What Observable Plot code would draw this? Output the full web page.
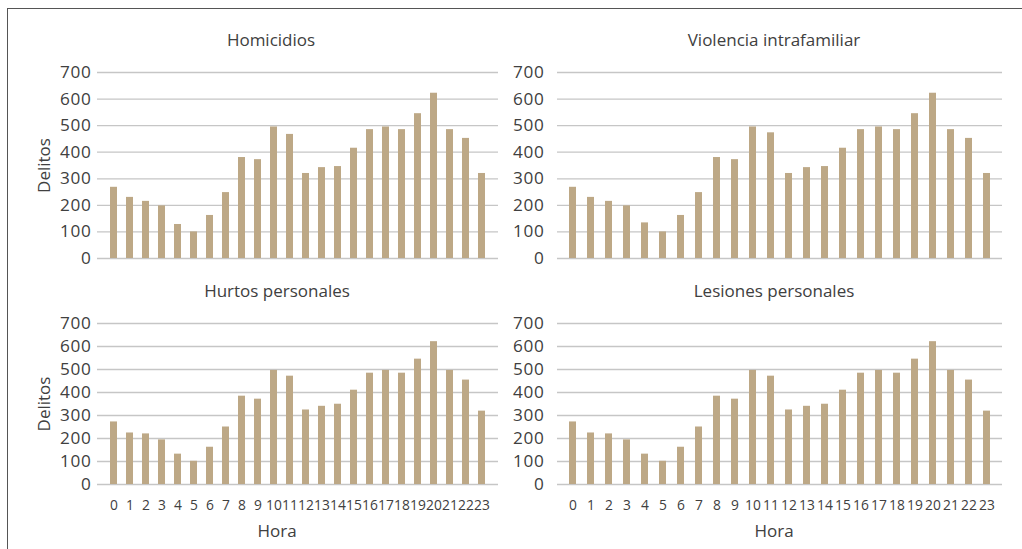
<!DOCTYPE html>
<html>
<head>
<meta charset="utf-8">
<script src="https://cdn.jsdelivr.net/npm/d3@7"></script>
<script src="https://cdn.jsdelivr.net/npm/@observablehq/plot@0.6"></script>
<style>
  body { margin: 0; background: #fff; }
  #wrap { position: relative; width: 1022px; height: 549px; overflow: hidden; background: #fff; }
  #frame { position: absolute; left: 7px; top: 8px; width: 1100px; height: 700px;
           border-left: 1.5px solid #555; border-top: 1.5px solid #555; }
  .panel { position: absolute; }
  .panel svg { display: block; overflow: visible; }
</style>
</head>
<body>
<div id="wrap"><div id="frame"></div></div>
<script>
const horas = d3.range(0, 24);
const yTicks = [0, 100, 200, 300, 400, 500, 600, 700];

const homicidios = [268, 230, 215, 198, 128, 100, 162, 248, 380, 372, 495, 467, 320, 342, 346, 415, 485, 495, 485, 545, 622, 485, 452, 320];
const violencia  = [268, 230, 215, 198, 134, 100, 162, 248, 380, 372, 495, 473, 320, 342, 346, 415, 485, 495, 485, 545, 622, 485, 452, 320];
const hurtos     = [272, 224, 220, 194, 132, 101, 162, 250, 384, 371, 496, 471, 324, 340, 349, 410, 484, 496, 484, 545, 621, 496, 454, 319];
const lesiones   = [272, 224, 220, 194, 132, 101, 162, 250, 384, 371, 496, 471, 324, 340, 349, 410, 484, 496, 484, 545, 621, 496, 454, 319];

const titles = ["Homicidios", "Violencia intrafamiliar", "Hurtos personales", "Lesiones personales"];
const yLabel = "Delitos";
const xLabel = "Hora";

const barColor = "#bda886";
const gridColor = "#c6c6c6";
const textColor = "#404040";
const FONT = "'Open Sans', 'Noto Sans', sans-serif";

function panel({values, title, left, top, width, height, mL, mR, mT, mB, tickPad, padding,
                showY, showX, titleDx, titleDy, labelDx, horaDx}) {
  const data = horas.map((h, i) => ({hora: h, delitos: values[i]}));
  const marks = [
    Plot.ruleY(yTicks, {stroke: gridColor, strokeWidth: 1.3}),
    Plot.barY(data, {x: "hora", y: "delitos", fill: barColor}),
    Plot.axisY(yTicks, {tickSize: 0, tickPadding: tickPad, label: null, fill: textColor, fontSize: 17.2}),
    Plot.text([title], {frameAnchor: "top", dx: titleDx, dy: titleDy, lineAnchor: "middle",
                        fill: textColor, fontSize: 17})
  ];
  if (showY) {
    marks.push(Plot.text([yLabel], {frameAnchor: "left", dx: labelDx, rotate: -90, lineAnchor: "middle",
                                    textAnchor: "middle", fill: textColor, fontSize: 17}));
  }
  if (showX) {
    marks.push(Plot.axisX({tickSize: 0, tickPadding: 16, label: null, fill: textColor, fontSize: 13.8}));
    marks.push(Plot.text([xLabel], {frameAnchor: "bottom", dx: horaDx, dy: 47, lineAnchor: "middle",
                                    fill: textColor, fontSize: 17}));
  } else {
    marks.push(Plot.axisX({ticks: [], label: null}));
  }
  const chart = Plot.plot({
    width, height,
    marginLeft: mL, marginRight: mR, marginTop: mT, marginBottom: mB,
    style: {fontFamily: FONT, background: "transparent", overflow: "visible"},
    x: {type: "band", domain: horas, padding},
    y: {domain: [0, 700]},
    marks
  });
  chart.querySelectorAll('g[aria-label="y-axis tick label"] text').forEach(t => {
    t.style.letterSpacing = "0.7px";
  });
  const div = document.createElement("div");
  div.className = "panel";
  div.style.left = left + "px";
  div.style.top = top + "px";
  div.appendChild(chart);
  document.getElementById("wrap").appendChild(div);
}

// top-left
panel({values: homicidios, title: titles[0], left: 0, top: 0, width: 520, height: 280,
       mL: 97, mR: 22, mT: 72, mB: 22, tickPad: 6, padding: 0.58,
       showY: true, showX: false, titleDx: -27, titleDy: -32, labelDx: -53});
// top-right
panel({values: violencia, title: titles[1], left: 520, top: 0, width: 502, height: 280,
       mL: 37, mR: 20, mT: 72, mB: 22, tickPad: 13, padding: 0.62,
       showY: false, showX: false, titleDx: -6, titleDy: -32});
// bottom-left
panel({values: hurtos, title: titles[2], left: 0, top: 280, width: 520, height: 269,
       mL: 97, mR: 22, mT: 43, mB: 65, tickPad: 6, padding: 0.58,
       showY: true, showX: true, titleDx: -21, titleDy: -32, labelDx: -53, horaDx: -21});
// bottom-right
panel({values: lesiones, title: titles[3], left: 520, top: 280, width: 502, height: 269,
       mL: 37, mR: 20, mT: 43, mB: 65, tickPad: 13, padding: 0.62,
       showY: false, showX: true, titleDx: -6, titleDy: -32, horaDx: -6});
</script>
</body>
</html>
